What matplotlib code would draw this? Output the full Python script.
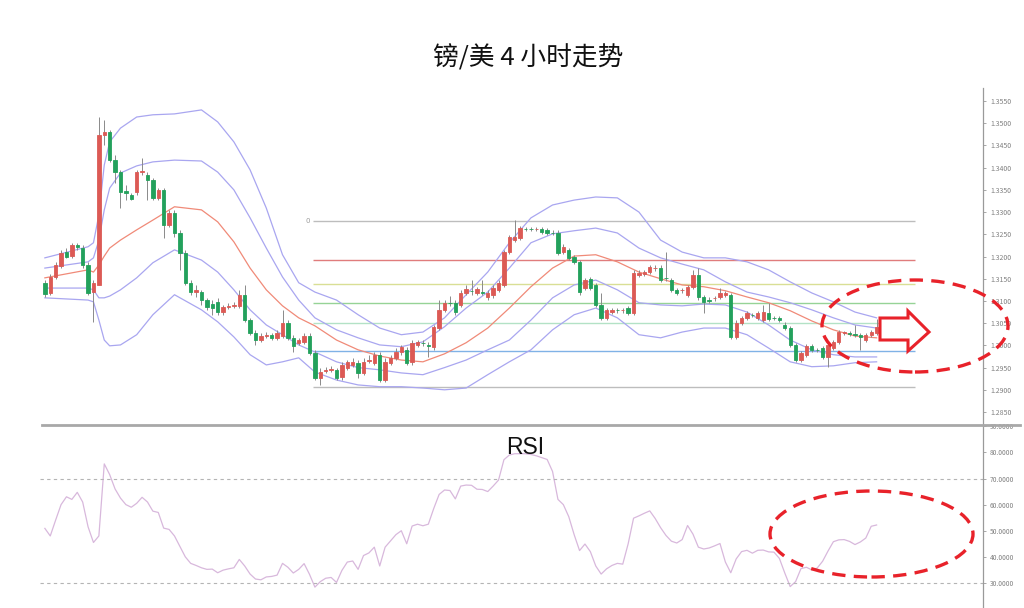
import matplotlib
matplotlib.use("Agg")

import matplotlib.pyplot as plt
import numpy as np
from matplotlib.lines import Line2D
from matplotlib.patches import Ellipse, Polygon


FIG_W = 1024
FIG_H = 608

TITLE = "镑/美 4 小时走势"

RED = "#dc5a55"
GREEN = "#23a15c"
WICK = "#8a8a8a"
BAND_COLOUR = "#a9a6f0"
MID_COLOUR = "#f08a78"
RSI_COLOUR = "#d8b8dc"
AXIS_COLOUR = "#9a9a9a"
TICK_TEXT = "#808080"
MARK_RED = "#e8222a"

# 4h candles, GBP/USD
OPENS = [
    1.3141, 1.3118, 1.3154, 1.3179, 1.3210, 1.3201, 1.3226, 1.3219, 1.3181, 1.3120,
    1.3136, 1.3474, 1.3480, 1.3417, 1.3390, 1.3348, 1.3339, 1.3345, 1.3390, 1.3384,
    1.3372, 1.3332, 1.3350, 1.3271, 1.3298, 1.3253, 1.3208, 1.3141, 1.3120, 1.3120,
    1.3102, 1.3093, 1.3098, 1.3075, 1.3087, 1.3089, 1.3089, 1.3114, 1.3057, 1.3028,
    1.3012, 1.3021, 1.3024, 1.3017, 1.3021, 1.3051, 1.3017, 1.3006, 1.3008, 1.3021,
    1.2983, 1.2927, 1.2943, 1.2945, 1.2945, 1.2929, 1.2949, 1.2956, 1.2961, 1.2938,
    1.2965, 1.2961, 1.2979, 1.2922, 1.2961, 1.2972, 1.2985, 1.2990, 1.2963, 1.3001,
    1.3006, 1.3001, 1.2997, 1.3039, 1.3080, 1.3096, 1.3096, 1.3091, 1.3118, 1.3123,
    1.3118, 1.3120, 1.3109, 1.3114, 1.3125, 1.3136, 1.3210, 1.3237, 1.3242, 1.3262,
    1.3262, 1.3261, 1.3262, 1.3260, 1.3253, 1.3253, 1.3210, 1.3215, 1.3199, 1.3188,
    1.3129, 1.3150, 1.3136, 1.3091, 1.3062, 1.3075, 1.3080, 1.3079, 1.3084, 1.3073,
    1.3159, 1.3161, 1.3165, 1.3174, 1.3174, 1.3152, 1.3147, 1.3125, 1.3124, 1.3114,
    1.3132, 1.3159, 1.3109, 1.3102, 1.3106, 1.3109, 1.3114, 1.3114, 1.3019, 1.3051,
    1.3062, 1.3069, 1.3062, 1.3057, 1.3073, 1.3062, 1.3062, 1.3046, 1.3039, 1.3001,
    1.2967, 1.2979, 1.2999, 1.2990, 1.2994, 1.2974, 1.2994, 1.3008, 1.3028, 1.3028,
    1.3026, 1.3024, 1.3012, 1.3024, 1.3028,
]
CLOSES = [
    1.3116, 1.3154, 1.3181, 1.3208, 1.3199, 1.3226, 1.3222, 1.3181, 1.3118, 1.3141,
    1.3474, 1.3480, 1.3417, 1.3390, 1.3345, 1.3343, 1.3330, 1.3390, 1.3392, 1.3372,
    1.3332, 1.3350, 1.3271, 1.3298, 1.3253, 1.3208, 1.3141, 1.3120, 1.3125, 1.3102,
    1.3087, 1.3084, 1.3075, 1.3087, 1.3089, 1.3091, 1.3114, 1.3057, 1.3028, 1.3012,
    1.3021, 1.3024, 1.3017, 1.3028, 1.3051, 1.3017, 1.2999, 1.3012, 1.3021, 1.2983,
    1.2927, 1.2940, 1.2945, 1.2947, 1.2927, 1.2956, 1.2963, 1.2963, 1.2938, 1.2963,
    1.2967, 1.2979, 1.2922, 1.2963, 1.2972, 1.2985, 1.2997, 1.2961, 1.3006, 1.3008,
    1.3005, 1.2999, 1.3042, 1.3080, 1.3096, 1.3095, 1.3075, 1.3118, 1.3127, 1.3122,
    1.3127, 1.3119, 1.3118, 1.3129, 1.3141, 1.3210, 1.3244, 1.3244, 1.3264, 1.3261,
    1.3261, 1.3262, 1.3255, 1.3253, 1.3252, 1.3208, 1.3222, 1.3197, 1.3188, 1.3120,
    1.3147, 1.3129, 1.3091, 1.3062, 1.3080, 1.3080, 1.3079, 1.3080, 1.3073, 1.3163,
    1.3163, 1.3165, 1.3177, 1.3175, 1.3147, 1.3151, 1.3125, 1.3118, 1.3125, 1.3132,
    1.3159, 1.3109, 1.3098, 1.3101, 1.3107, 1.3118, 1.3118, 1.3019, 1.3051, 1.3062,
    1.3073, 1.3068, 1.3073, 1.3075, 1.3060, 1.3061, 1.3057, 1.3039, 1.3001, 1.2967,
    1.2983, 1.2999, 1.2990, 1.2989, 1.2974, 1.3001, 1.3008, 1.3030, 1.3029, 1.3026,
    1.3024, 1.3019, 1.3024, 1.3030, 1.3042,
]
HIGHS = [
    1.3147, 1.3161, 1.3188, 1.3215, 1.3219, 1.3231, 1.3231, 1.3226, 1.3188, 1.3147,
    1.3514, 1.3507, 1.3485, 1.3429, 1.3395, 1.3361, 1.3343, 1.3395, 1.3422, 1.3390,
    1.3377, 1.3354, 1.3354, 1.3305, 1.3305, 1.3260, 1.3215, 1.3147, 1.3136, 1.3125,
    1.3107, 1.3102, 1.3107, 1.3091, 1.3096, 1.3098, 1.3125, 1.3136, 1.3062, 1.3035,
    1.3028, 1.3030, 1.3028, 1.3035, 1.3080, 1.3057, 1.3024, 1.3017, 1.3028, 1.3028,
    1.2990, 1.2949, 1.2952, 1.2954, 1.2949, 1.2963, 1.2967, 1.2972, 1.2967, 1.2972,
    1.2979, 1.2985, 1.2985, 1.2972, 1.2979, 1.2994, 1.3001, 1.2997, 1.3012, 1.3012,
    1.3012, 1.3008, 1.3046, 1.3102, 1.3102, 1.3111, 1.3102, 1.3125, 1.3136, 1.3147,
    1.3132, 1.3147, 1.3125, 1.3136, 1.3147, 1.3215, 1.3249, 1.3282, 1.3269, 1.3267,
    1.3267, 1.3267, 1.3267, 1.3264, 1.3260, 1.3260, 1.3228, 1.3219, 1.3204, 1.3192,
    1.3152, 1.3154, 1.3141, 1.3118, 1.3084, 1.3084, 1.3084, 1.3084, 1.3089, 1.3170,
    1.3170, 1.3170, 1.3181, 1.3181, 1.3181, 1.3210, 1.3152, 1.3129, 1.3129, 1.3136,
    1.3170, 1.3174, 1.3114, 1.3109, 1.3111, 1.3129, 1.3123, 1.3118, 1.3057, 1.3066,
    1.3078, 1.3073, 1.3078, 1.3091, 1.3096, 1.3066, 1.3066, 1.3053, 1.3044, 1.3006,
    1.2988, 1.3003, 1.3003, 1.2994, 1.2999, 1.3006, 1.3012, 1.3035, 1.3033, 1.3033,
    1.3046, 1.3028, 1.3028, 1.3035, 1.3060,
]
LOWS = [
    1.3109, 1.3114, 1.3150, 1.3174, 1.3197, 1.3197, 1.3215, 1.3174, 1.3114, 1.3053,
    1.3136, 1.3451, 1.3413, 1.3366, 1.3309, 1.3327, 1.3327, 1.3339, 1.3384, 1.3327,
    1.3327, 1.3327, 1.3242, 1.3267, 1.3244, 1.3170, 1.3136, 1.3114, 1.3109, 1.3091,
    1.3080, 1.3069, 1.3069, 1.3069, 1.3082, 1.3084, 1.3084, 1.3053, 1.3024, 1.3001,
    1.3008, 1.3017, 1.3012, 1.3012, 1.3017, 1.3012, 1.2985, 1.3001, 1.3003, 1.2979,
    1.2922, 1.2911, 1.2938, 1.2940, 1.2922, 1.2922, 1.2945, 1.2952, 1.2927, 1.2934,
    1.2961, 1.2956, 1.2918, 1.2918, 1.2956, 1.2967, 1.2979, 1.2956, 1.2956, 1.2997,
    1.2999, 1.2974, 1.2990, 1.3035, 1.3075, 1.3089, 1.3069, 1.3087, 1.3114, 1.3114,
    1.3114, 1.3114, 1.3102, 1.3107, 1.3120, 1.3132, 1.3206, 1.3233, 1.3237, 1.3258,
    1.3258, 1.3258, 1.3251, 1.3249, 1.3249, 1.3204, 1.3206, 1.3192, 1.3183, 1.3114,
    1.3125, 1.3125, 1.3087, 1.3057, 1.3057, 1.3071, 1.3073, 1.3073, 1.3069, 1.3069,
    1.3154, 1.3156, 1.3161, 1.3168, 1.3143, 1.3145, 1.3120, 1.3114, 1.3118, 1.3109,
    1.3127, 1.3102, 1.3073, 1.3096, 1.3100, 1.3105, 1.3109, 1.3015, 1.3015, 1.3046,
    1.3057, 1.3064, 1.3057, 1.3053, 1.3055, 1.3057, 1.3053, 1.3035, 1.2997, 1.2963,
    1.2963, 1.2974, 1.2985, 1.2985, 1.2970, 1.2952, 1.2990, 1.3003, 1.3024, 1.3021,
    1.3019, 1.2990, 1.3008, 1.3019, 1.3024,
]

# Bollinger bands at these bar numbers
BAND_BARS = [
    0, 8, 9, 10, 11, 12, 14, 17, 20, 24, 29, 32, 35, 38, 41, 44, 47, 50, 54, 58, 62, 66,
    70, 74, 78, 82, 86, 90, 94, 98, 102, 106, 110, 114, 118, 122, 126, 130, 134, 138,
    142, 146, 150, 154,
]
BAND_OUTER_UPPER = [
    1.3197, 1.3222, 1.3231, 1.3294, 1.3406, 1.3458, 1.3489, 1.3514, 1.3519, 1.3521,
    1.3530, 1.3503, 1.3458, 1.3395, 1.3309, 1.3204, 1.3141, 1.3120, 1.3102, 1.3069,
    1.3039, 1.3024, 1.3030, 1.3062, 1.3114, 1.3165, 1.3231, 1.3287, 1.3316, 1.3327,
    1.3334, 1.3332, 1.3300, 1.3237, 1.3210, 1.3197, 1.3197, 1.3188, 1.3170, 1.3143,
    1.3118, 1.3098, 1.3075, 1.3062,
]
BAND_INNER_UPPER = [
    1.3174, 1.3188, 1.3197, 1.3237, 1.3305, 1.3354, 1.3388, 1.3404, 1.3413, 1.3417,
    1.3415, 1.3390, 1.3350, 1.3287, 1.3219, 1.3154, 1.3102, 1.3062, 1.3035, 1.3017,
    1.3001, 1.2997, 1.3008, 1.3042, 1.3084, 1.3120, 1.3174, 1.3231, 1.3251, 1.3258,
    1.3264, 1.3253, 1.3219, 1.3197, 1.3183, 1.3170, 1.3143, 1.3120, 1.3109, 1.3096,
    1.3080, 1.3062, 1.3046, 1.3039,
]
BAND_MIDDLE = [
    1.3152, 1.3170, 1.3165, 1.3181, 1.3201, 1.3219, 1.3237, 1.3260, 1.3282, 1.3312,
    1.3305, 1.3278, 1.3233, 1.3174, 1.3125, 1.3089, 1.3062, 1.3044, 1.3012, 1.2990,
    1.2976, 1.2967, 1.2963, 1.2981, 1.3006, 1.3039, 1.3084, 1.3132, 1.3174, 1.3201,
    1.3204, 1.3188, 1.3165, 1.3150, 1.3136, 1.3132, 1.3123, 1.3109, 1.3096, 1.3078,
    1.3055, 1.3035, 1.3021, 1.3017,
]
BAND_INNER_LOWER = [
    1.3129, 1.3129, 1.3125, 1.3107, 1.3107, 1.3111, 1.3125, 1.3152, 1.3186, 1.3215,
    1.3192, 1.3165, 1.3125, 1.3080, 1.3046, 1.3024, 1.3001, 1.2985, 1.2963, 1.2950,
    1.2945, 1.2938, 1.2934, 1.2950, 1.2967, 1.2990, 1.3012, 1.3057, 1.3107, 1.3136,
    1.3147, 1.3125, 1.3096, 1.3091, 1.3089, 1.3093, 1.3091, 1.3075, 1.3046, 1.3012,
    1.2990, 1.2979, 1.2974, 1.2974,
]
BAND_OUTER_LOWER = [
    1.3107, 1.3102, 1.3098, 1.3057, 1.3012, 1.2999, 1.3001, 1.3024, 1.3069, 1.3114,
    1.3080, 1.3053, 1.3019, 1.2979, 1.2956, 1.2963, 1.2972, 1.2940, 1.2922, 1.2911,
    1.2907, 1.2907, 1.2904, 1.2900, 1.2904, 1.2934, 1.2963, 1.2990, 1.3035, 1.3069,
    1.3084, 1.3062, 1.3024, 1.3017, 1.3030, 1.3039, 1.3039, 1.3024, 1.2994, 1.2963,
    1.2952, 1.2954, 1.2961, 1.2963,
]

# Fibonacci retracement levels (0 at the top)
FIB_LEVELS = [1.3281, 1.3192, 1.3138, 1.3095, 1.3050, 1.2988, 1.2907]
FIB_COLOURS = ["#bdbdbd", "#e07c7c", "#d9df95", "#96d396", "#b3e2c6", "#80b2e6", "#bdbdbd"]

PRICE_TICKS = [
    1.2850, 1.2900, 1.2950, 1.3000, 1.3050, 1.3100, 1.3150, 1.3200,
    1.3250, 1.3300, 1.3350, 1.3400, 1.3450, 1.3500, 1.3550,
]
RSI_TICKS = [30, 40, 50, 60, 70, 80, 90]

RSI_VALUES = [
    50.9, 48.0, 54.1, 60.0, 63.0, 62.0, 64.7, 61.0, 51.5, 45.5,
    48.0, 75.6, 71.5, 66.0, 62.5, 60.0, 59.0, 60.5, 62.8, 61.0,
    57.5, 57.0, 51.0, 50.5, 48.0, 44.0, 40.0, 37.5, 36.7, 35.8,
    35.2, 35.3, 33.9, 34.9, 35.4, 35.8, 39.0, 36.5, 33.4, 31.5,
    31.2, 32.3, 32.5, 33.0, 37.5, 36.0, 33.8, 35.2, 37.4, 33.3,
    28.4, 30.5, 31.8, 32.1, 30.2, 34.8, 38.0, 38.4, 35.2, 40.5,
    41.5, 43.7, 36.5, 43.7, 46.1, 48.5, 50.0, 45.0, 51.8, 52.5,
    51.9, 52.5, 58.5, 63.9, 65.6, 65.4, 62.2, 67.1, 67.5, 67.4,
    65.9, 65.8, 65.0, 67.1, 69.4, 77.2, 79.0, 79.5, 79.5, 79.5,
    79.2, 78.7, 78.0, 77.3, 72.7, 62.0, 60.0, 55.4, 48.5, 42.4,
    44.9, 42.0, 36.5, 33.4, 35.4, 36.7, 37.5, 37.2, 45.0, 54.8,
    55.7, 56.7, 57.6, 54.7, 51.2, 48.2, 46.0, 45.3, 46.6, 52.0,
    48.7, 43.7, 43.0, 43.4, 44.2, 45.1, 38.0, 33.9, 39.2, 42.0,
    42.5, 41.4, 42.5, 42.6, 41.9, 41.8, 39.4, 33.8, 28.6, 30.5,
    35.5, 36.0, 35.0, 35.7, 38.3, 42.2, 45.8, 46.5, 46.6, 45.9,
    44.7, 45.7, 47.2, 51.7, 52.2,
]


def _fig_xy(x_px: float, y_px: float) -> tuple[float, float]:
    return x_px / FIG_W, 1 - y_px / FIG_H


def _style_axis(ax, ticks, fmt, fontsize) -> None:
    for side in ("top", "left", "bottom"):
        ax.spines[side].set_visible(False)
    ax.spines["right"].set_color(AXIS_COLOUR)
    ax.spines["right"].set_linewidth(0.9)
    ax.set_xticks([])
    ax.yaxis.tick_right()
    ax.set_yticks(ticks)
    ax.set_yticklabels([fmt.format(t) for t in ticks])
    ax.tick_params(
        axis="y", colors=AXIS_COLOUR, labelcolor=TICK_TEXT,
        labelsize=fontsize, length=2.5, width=0.6, pad=2.5,
    )


def main() -> None:
    plt.rcParams["font.family"] = ["Noto Sans CJK SC", "DejaVu Sans"]

    fig = plt.figure(figsize=(FIG_W / 100, FIG_H / 100), dpi=100)
    fig.patch.set_facecolor("white")

    left = 40 / FIG_W
    width = (983 - 40) / FIG_W
    split = 1 - 425 / FIG_H
    ax = fig.add_axes([left, split, width, (425 - 88) / FIG_H])
    ax_rsi = fig.add_axes([left, 0, width, split])

    x_min, x_max = -0.9, 173.7

    # price panel
    opens = np.array(OPENS)
    closes = np.array(CLOSES)
    bars = np.arange(len(closes))
    colours = np.where(closes >= opens, RED, GREEN)

    for level, colour in zip(FIB_LEVELS, FIB_COLOURS):
        ax.hlines(level, 49.6, 161.2, color=colour, linewidth=1.0, zorder=1)
    ax.text(49.0, FIB_LEVELS[0], "0", color="#9a9a9a", fontsize=5,
            ha="right", va="center", family="DejaVu Sans")

    for band in (BAND_OUTER_UPPER, BAND_INNER_UPPER, BAND_INNER_LOWER, BAND_OUTER_LOWER):
        ax.plot(BAND_BARS, band, color=BAND_COLOUR, linewidth=0.9, zorder=2)
    ax.plot(BAND_BARS, BAND_MIDDLE, color=MID_COLOUR, linewidth=0.9, zorder=2)

    ax.vlines(bars, LOWS, HIGHS, color=WICK, linewidth=0.7, zorder=3)
    ax.bar(
        bars, np.abs(closes - opens), bottom=np.minimum(opens, closes),
        width=0.62, color=colours, edgecolor=colours, linewidth=0.6, zorder=4,
    )

    ax.set_xlim(x_min, x_max)
    ax.set_ylim(1.28208, 1.35793)
    _style_axis(ax, PRICE_TICKS, "{:.4f}", 5)

    # RSI panel
    ax_rsi.plot(np.arange(len(RSI_VALUES)), RSI_VALUES, color=RSI_COLOUR, linewidth=0.9)
    for level in (70, 30):
        ax_rsi.axhline(level, color="#b4b4b4", linewidth=0.8, linestyle=(0, (3, 3)))
    ax_rsi.set_xlim(x_min, x_max)
    ax_rsi.set_ylim(20.4, 90.5)
    _style_axis(ax_rsi, RSI_TICKS, "{:.4f}", 4.8)

    # panel separator
    x0, y0 = _fig_xy(42, 425)
    x1, _ = _fig_xy(1020, 425)
    fig.add_artist(Line2D([x0, x1], [y0, y0], transform=fig.transFigure,
                          color="#a8a8a8", linewidth=2.0))

    tx, ty = _fig_xy(528, 58)
    fig.text(tx, ty, TITLE, fontsize=18.5, ha="center", va="center", color="#111111")

    rx, ry = _fig_xy(525, 448)
    fig.text(rx, ry, "RSI", fontsize=16.5, ha="center", va="center",
             family="Liberation Sans", color="#111111")

    # hand-drawn style markings
    for cx, cy, w, h in ((915, 326, 186, 92), (871.5, 534, 203, 86)):
        ex, ey = _fig_xy(cx, cy)
        fig.add_artist(Ellipse(
            (ex, ey), w / FIG_W, h / FIG_H, transform=fig.transFigure,
            fill=False, edgecolor=MARK_RED, linewidth=2.4, linestyle=(0, (4, 2.5)),
        ))

    arrow_px = [(880, 318), (908, 318), (908, 311), (929, 332),
                (908, 351), (908, 340), (880, 340)]
    fig.add_artist(Polygon(
        [_fig_xy(px, py) for px, py in arrow_px], closed=True,
        transform=fig.transFigure, facecolor="white", edgecolor=MARK_RED,
        linewidth=2.2, joinstyle="miter",
    ))

    fig.savefig("out.png", dpi=100, facecolor=fig.get_facecolor())
    plt.close(fig)


if __name__ == "__main__":
    main()
